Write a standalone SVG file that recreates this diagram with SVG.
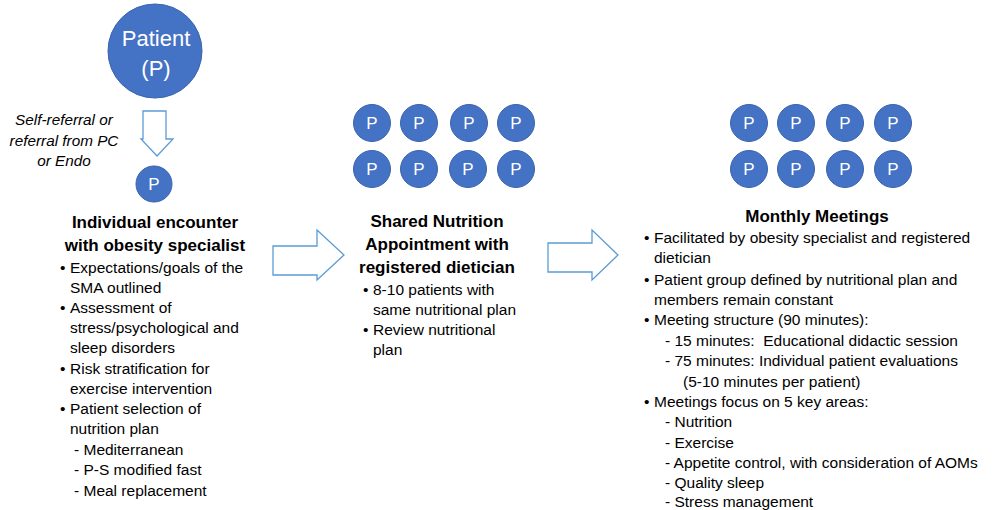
<svg xmlns="http://www.w3.org/2000/svg" width="995" height="510" viewBox="0 0 995 510">
<style>
.c{fill:#4472C4;stroke:#3A64AE;stroke-width:1}
.pt{font-family:"Liberation Sans",Arial,sans-serif;font-size:17px;fill:#fff;text-anchor:middle}
.ar{fill:#fff;stroke:#5B9BD5;stroke-width:1.3}
.h{font-family:"Liberation Sans",Arial,sans-serif;font-size:17px;font-weight:bold;fill:#000;text-anchor:middle}
.t{font-family:"Liberation Sans",Arial,sans-serif;font-size:15.5px;fill:#000}
.it{font-family:"Liberation Sans",Arial,sans-serif;font-size:15.3px;font-style:italic;fill:#000;text-anchor:middle}
</style>
<rect width="995" height="510" fill="#fff"/>
<g id="patient">
<circle class="c" cx="155" cy="51" r="47"/>
<text class="pt" x="156" y="46" style="font-size:22px">Patient</text>
<text class="pt" x="156" y="76" style="font-size:22px">(P)</text>
</g>
<g id="referral-label">
<text class="it" x="64" y="125">Self-referral or</text>
<text class="it" x="64" y="146">referral from PC</text>
<text class="it" x="64" y="166">or Endo</text>
</g>
<g id="connectors">
<polygon class="ar" points="143,111 166,111 166,139 173,139 157,156 141,139 143,139"/>
<polygon class="ar" points="273,246 317,246 317,230 344,255 317,280 317,275 273,275"/>
<polygon class="ar" points="548,243 592,243 592,230 618,255 592,280 592,272 548,272"/>
</g>
<g id="individual">
<circle class="c" cx="154" cy="184" r="18"/>
<text class="pt" x="154" y="190">P</text>
<text class="h" x="155" y="228">Individual encounter</text>
<text class="h" x="155" y="251">with obesity specialist</text>
<g class="t">
<text x="60" y="273">•</text><text x="70" y="273">Expectations/goals of the</text>
<text x="70" y="293">SMA outlined</text>
<text x="60" y="313">•</text><text x="70" y="313">Assessment of</text>
<text x="70" y="333">stress/psychological and</text>
<text x="70" y="353">sleep disorders</text>
<text x="60" y="374">•</text><text x="70" y="374">Risk stratification for</text>
<text x="70" y="394">exercise intervention</text>
<text x="60" y="414">•</text><text x="70" y="414">Patient selection of</text>
<text x="70" y="434">nutrition plan</text>
<text x="74" y="455">- Mediterranean</text>
<text x="74" y="475">- P-S modified fast</text>
<text x="74" y="496">- Meal replacement</text>
</g>
</g>
<g id="shared">
<circle class="c" cx="372" cy="123" r="18.5"/><text class="pt" x="372" y="129">P</text>
<circle class="c" cx="419" cy="123" r="18.5"/><text class="pt" x="419" y="129">P</text>
<circle class="c" cx="469" cy="123" r="18.5"/><text class="pt" x="469" y="129">P</text>
<circle class="c" cx="516" cy="123" r="18.5"/><text class="pt" x="516" y="129">P</text>
<circle class="c" cx="372" cy="169" r="18.5"/><text class="pt" x="372" y="175">P</text>
<circle class="c" cx="419" cy="169" r="18.5"/><text class="pt" x="419" y="175">P</text>
<circle class="c" cx="468" cy="169" r="18.5"/><text class="pt" x="468" y="175">P</text>
<circle class="c" cx="516" cy="169" r="18.5"/><text class="pt" x="516" y="175">P</text>
<text class="h" x="437" y="227">Shared Nutrition</text>
<text class="h" x="437" y="250">Appointment with</text>
<text class="h" x="437" y="273">registered dietician</text>
<g class="t">
<text x="363" y="295">•</text><text x="373" y="295">8-10 patients with</text>
<text x="373" y="315">same nutritional plan</text>
<text x="363" y="335">•</text><text x="373" y="335">Review nutritional</text>
<text x="373" y="355">plan</text>
</g>
</g>
<g id="monthly">
<circle class="c" cx="749" cy="123" r="18.5"/><text class="pt" x="749" y="129">P</text>
<circle class="c" cx="796" cy="123" r="18.5"/><text class="pt" x="796" y="129">P</text>
<circle class="c" cx="845" cy="123" r="18.5"/><text class="pt" x="845" y="129">P</text>
<circle class="c" cx="893" cy="123" r="18.5"/><text class="pt" x="893" y="129">P</text>
<circle class="c" cx="749" cy="169" r="18.5"/><text class="pt" x="749" y="175">P</text>
<circle class="c" cx="796" cy="169" r="18.5"/><text class="pt" x="796" y="175">P</text>
<circle class="c" cx="845" cy="169" r="18.5"/><text class="pt" x="845" y="175">P</text>
<circle class="c" cx="893" cy="169" r="18.5"/><text class="pt" x="893" y="175">P</text>
<text class="h" x="817" y="222">Monthly Meetings</text>
<g class="t">
<text x="644" y="243">•</text><text x="654" y="243">Facilitated by obesity specialist and registered</text>
<text x="654" y="263">dietician</text>
<text x="644" y="285">•</text><text x="654" y="285">Patient group defined by nutritional plan and</text>
<text x="654" y="305">members remain constant</text>
<text x="644" y="325">•</text><text x="654" y="325">Meeting structure (90 minutes):</text>
<text x="665" y="346" xml:space="preserve">- 15 minutes:  Educational didactic session</text>
<text x="665" y="366">- 75 minutes: Individual patient evaluations</text>
<text x="683" y="387">(5-10 minutes per patient)</text>
<text x="644" y="407">•</text><text x="654" y="407">Meetings focus on 5 key areas:</text>
<text x="665" y="427">- Nutrition</text>
<text x="665" y="448">- Exercise</text>
<text x="665" y="468">- Appetite control, with consideration of AOMs</text>
<text x="665" y="488">- Quality sleep</text>
<text x="665" y="507">- Stress management</text>
</g>
</g>
</svg>
